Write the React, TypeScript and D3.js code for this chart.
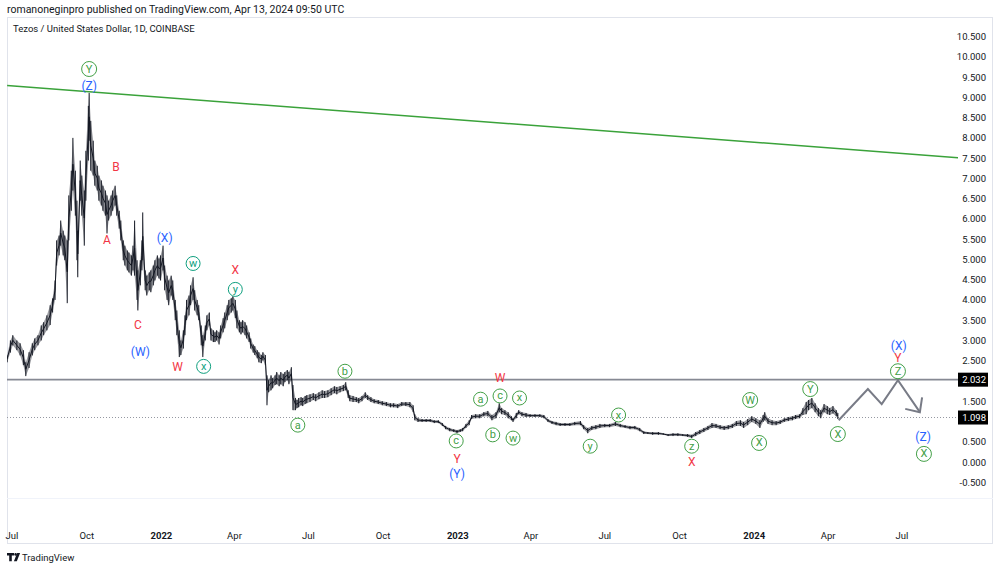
import React from "react";
import * as d3 from "d3";

const W = 1000;
const H = 568;

// ---- data ----
const headerText = "romanoneginpro published on TradingView.com, Apr 13, 2024 09:50 UTC";
const symbolText = "Tezos / United States Dollar, 1D, COINBASE";

const timeTickDates = [
  "2021-07-01", "2021-10-01", "2022-01-01", "2022-04-01", "2022-07-01", "2022-10-01",
  "2023-01-01", "2023-04-01", "2023-07-01", "2023-10-01", "2024-01-01", "2024-04-01", "2024-07-01",
];
const timeTickLabels = ["Jul", "Oct", "2022", "Apr", "Jul", "Oct", "2023", "Apr", "Jul", "Oct", "2024", "Apr", "Jul"];

const priceTicks = [10.5, 10, 9.5, 9, 8.5, 8, 7.5, 7, 6.5, 6, 5.5, 5, 4.5, 4, 3.5, 3, 2.5, 1.5, 0.5, 0, -0.5];

const resistanceLevel = 2.032;
const lastPrice = 1.098;

// [date, high, low]
const priceBands: [string, number, number][] = [
  ["2021-06-25", 2.63, 2.46], ["2021-06-29", 3.0, 2.7], ["2021-07-02", 3.13, 2.88], ["2021-07-07", 3.0, 2.76],
  ["2021-07-11", 2.93, 2.63], ["2021-07-15", 2.76, 2.39], ["2021-07-18", 2.46, 2.12], ["2021-07-22", 2.71, 2.32],
  ["2021-07-26", 2.93, 2.63], ["2021-07-29", 3.05, 2.76], ["2021-08-02", 3.13, 2.88], ["2021-08-06", 3.37, 3.0],
  ["2021-08-09", 3.45, 3.13], ["2021-08-13", 3.62, 3.25], ["2021-08-17", 3.87, 3.38], ["2021-08-20", 4.04, 3.69],
  ["2021-08-23", 4.48, 4.0], ["2021-08-25", 5.47, 4.85], ["2021-08-28", 5.59, 5.1], ["2021-08-30", 5.96, 5.34],
  ["2021-09-02", 5.71, 5.1], ["2021-09-04", 5.59, 4.98], ["2021-09-07", 5.47, 3.92], ["2021-09-09", 6.58, 5.47],
  ["2021-09-12", 7.19, 6.2], ["2021-09-14", 8.0, 6.7], ["2021-09-17", 7.19, 6.08], ["2021-09-19", 6.45, 4.98],
  ["2021-09-20", 5.71, 4.56], ["2021-09-23", 7.44, 6.45], ["2021-09-25", 7.07, 6.08], ["2021-09-28", 6.7, 5.34],
  ["2021-09-30", 7.68, 6.45], ["2021-10-03", 8.79, 7.44], ["2021-10-04", 9.11, 7.93], ["2021-10-06", 8.42, 7.19],
  ["2021-10-09", 7.93, 7.07], ["2021-10-11", 7.44, 6.82], ["2021-10-14", 7.31, 6.7], ["2021-10-16", 7.07, 6.45],
  ["2021-10-19", 6.95, 6.33], ["2021-10-21", 6.82, 6.2], ["2021-10-24", 6.7, 6.08], ["2021-10-26", 6.58, 5.64],
  ["2021-10-28", 6.45, 5.96], ["2021-10-31", 6.58, 6.08], ["2021-11-02", 6.7, 6.2], ["2021-11-05", 6.82, 6.33],
  ["2021-11-07", 6.58, 6.08], ["2021-11-10", 6.2, 5.76], ["2021-11-12", 5.96, 5.47], ["2021-11-15", 5.47, 4.98],
  ["2021-11-17", 5.34, 4.85], ["2021-11-20", 5.22, 4.73], ["2021-11-22", 5.17, 4.68], ["2021-11-25", 5.1, 4.6],
  ["2021-11-27", 5.34, 4.73], ["2021-11-29", 5.96, 4.6], ["2021-12-02", 4.98, 4.0], ["2021-12-03", 4.73, 3.74],
  ["2021-12-06", 4.98, 4.36], ["2021-12-08", 5.47, 4.73], ["2021-12-09", 6.16, 4.98], ["2021-12-12", 4.73, 4.24],
  ["2021-12-14", 4.6, 4.11], ["2021-12-17", 4.68, 4.24], ["2021-12-19", 4.73, 4.19], ["2021-12-22", 4.85, 4.36],
  ["2021-12-24", 4.98, 4.48], ["2021-12-27", 5.1, 4.6], ["2021-12-29", 5.02, 4.53], ["2021-12-31", 5.1, 4.48],
  ["2022-01-03", 5.34, 4.73], ["2022-01-05", 4.85, 4.24], ["2022-01-08", 4.6, 4.0], ["2022-01-10", 4.48, 3.87],
  ["2022-01-13", 4.6, 4.11], ["2022-01-15", 4.48, 4.0], ["2022-01-18", 4.0, 3.5], ["2022-01-20", 3.74, 3.13],
  ["2022-01-23", 3.25, 2.59], ["2022-01-25", 3.0, 2.64], ["2022-01-28", 3.25, 2.8], ["2022-01-30", 3.62, 3.13],
  ["2022-02-01", 4.0, 3.5], ["2022-02-04", 4.11, 3.62], ["2022-02-06", 4.36, 3.87], ["2022-02-09", 4.56, 4.0],
  ["2022-02-11", 4.24, 3.74], ["2022-02-14", 4.0, 3.62], ["2022-02-16", 3.87, 3.5], ["2022-02-19", 3.37, 2.88],
  ["2022-02-21", 3.13, 2.59], ["2022-02-24", 3.37, 3.0], ["2022-02-26", 3.62, 3.25], ["2022-03-01", 3.69, 3.37],
  ["2022-03-03", 3.3, 3.0], ["2022-03-06", 3.25, 2.96], ["2022-03-08", 3.2, 2.96], ["2022-03-10", 3.25, 3.0],
  ["2022-03-13", 3.2, 2.9], ["2022-03-15", 3.37, 3.05], ["2022-03-18", 3.55, 3.2], ["2022-03-20", 3.69, 3.3],
  ["2022-03-23", 3.87, 3.5], ["2022-03-25", 4.0, 3.62], ["2022-03-28", 4.04, 3.69], ["2022-03-30", 4.09, 3.74],
  ["2022-04-02", 4.0, 3.55], ["2022-04-04", 3.74, 3.3], ["2022-04-07", 3.5, 3.2], ["2022-04-09", 3.45, 3.15],
  ["2022-04-11", 3.5, 3.2], ["2022-04-14", 3.45, 3.13], ["2022-04-16", 3.37, 3.05], ["2022-04-19", 3.2, 2.96],
  ["2022-04-21", 3.05, 2.8], ["2022-04-24", 2.9, 2.7], ["2022-04-26", 2.86, 2.64], ["2022-04-29", 2.76, 2.56],
  ["2022-05-01", 2.71, 2.46], ["2022-05-04", 2.64, 2.44], ["2022-05-06", 2.71, 2.51], ["2022-05-09", 2.64, 2.39],
  ["2022-05-11", 2.14, 1.4], ["2022-05-13", 2.02, 1.72], ["2022-05-16", 2.14, 1.77], ["2022-05-18", 2.07, 1.82],
  ["2022-05-21", 2.14, 1.9], ["2022-05-23", 2.22, 1.92], ["2022-05-26", 2.14, 1.87], ["2022-05-28", 2.22, 1.92],
  ["2022-05-31", 2.17, 1.87], ["2022-06-02", 2.22, 1.97], ["2022-06-05", 2.27, 2.02], ["2022-06-07", 2.22, 1.92],
  ["2022-06-10", 2.34, 2.02], ["2022-06-12", 1.9, 1.28], ["2022-06-15", 1.58, 1.28], ["2022-06-17", 1.53, 1.33],
  ["2022-06-19", 1.58, 1.35], ["2022-06-22", 1.6, 1.4], ["2022-06-24", 1.58, 1.38], ["2022-06-27", 1.63, 1.43],
  ["2022-06-29", 1.65, 1.45], ["2022-07-03", 1.67, 1.48], ["2022-07-07", 1.7, 1.53], ["2022-07-10", 1.67, 1.5],
  ["2022-07-14", 1.72, 1.55], ["2022-07-18", 1.77, 1.58], ["2022-07-21", 1.75, 1.58], ["2022-07-25", 1.77, 1.6],
  ["2022-07-29", 1.82, 1.65], ["2022-08-02", 1.87, 1.7], ["2022-08-05", 1.85, 1.67], ["2022-08-09", 1.87, 1.72],
  ["2022-08-13", 1.9, 1.75], ["2022-08-16", 1.97, 1.77], ["2022-08-19", 1.77, 1.58], ["2022-08-21", 1.65, 1.5],
  ["2022-08-25", 1.63, 1.48], ["2022-08-29", 1.6, 1.48], ["2022-09-01", 1.58, 1.45], ["2022-09-05", 1.63, 1.5],
  ["2022-09-09", 1.72, 1.58], ["2022-09-12", 1.65, 1.53], ["2022-09-16", 1.6, 1.48], ["2022-09-20", 1.55, 1.45],
  ["2022-09-25", 1.53, 1.43], ["2022-09-30", 1.5, 1.4], ["2022-10-05", 1.48, 1.38], ["2022-10-10", 1.45, 1.35],
  ["2022-10-14", 1.45, 1.35], ["2022-10-19", 1.43, 1.33], ["2022-10-24", 1.48, 1.38], ["2022-10-29", 1.48, 1.38],
  ["2022-11-03", 1.48, 1.35], ["2022-11-07", 1.4, 1.23], ["2022-11-09", 1.18, 1.03], ["2022-11-13", 1.08, 0.99],
  ["2022-11-18", 1.06, 0.99], ["2022-11-23", 1.06, 0.99], ["2022-11-28", 1.06, 0.99], ["2022-12-03", 1.03, 0.96],
  ["2022-12-08", 1.03, 0.96], ["2022-12-13", 0.96, 0.89], ["2022-12-17", 0.89, 0.81], ["2022-12-22", 0.84, 0.76],
  ["2022-12-27", 0.81, 0.74], ["2022-12-31", 0.79, 0.71], ["2023-01-04", 0.81, 0.74], ["2023-01-07", 0.84, 0.76],
  ["2023-01-11", 0.94, 0.84], ["2023-01-15", 1.03, 0.91], ["2023-01-18", 1.16, 1.06], ["2023-01-23", 1.18, 1.08],
  ["2023-01-28", 1.18, 1.08], ["2023-02-02", 1.23, 1.13], ["2023-02-07", 1.26, 1.13], ["2023-02-12", 1.16, 1.03],
  ["2023-02-17", 1.23, 1.08], ["2023-02-21", 1.45, 1.23], ["2023-02-24", 1.33, 1.18], ["2023-02-28", 1.28, 1.16],
  ["2023-03-04", 1.23, 1.08], ["2023-03-08", 1.13, 1.03], ["2023-03-10", 1.08, 0.99], ["2023-03-14", 1.21, 1.08],
  ["2023-03-17", 1.28, 1.18], ["2023-03-21", 1.23, 1.13], ["2023-03-26", 1.21, 1.11], ["2023-03-31", 1.18, 1.11],
  ["2023-04-06", 1.18, 1.11], ["2023-04-12", 1.18, 1.11], ["2023-04-17", 1.16, 1.08], ["2023-04-22", 1.06, 0.99],
  ["2023-04-27", 1.01, 0.94], ["2023-05-02", 0.99, 0.91], ["2023-05-07", 0.96, 0.89], ["2023-05-13", 0.96, 0.89],
  ["2023-05-19", 0.96, 0.89], ["2023-05-25", 0.99, 0.91], ["2023-06-01", 1.01, 0.91], ["2023-06-05", 0.91, 0.81],
  ["2023-06-10", 0.84, 0.71], ["2023-06-15", 0.89, 0.79], ["2023-06-20", 0.91, 0.81], ["2023-06-25", 0.94, 0.84],
  ["2023-07-01", 0.94, 0.86], ["2023-07-07", 0.94, 0.86], ["2023-07-14", 0.99, 0.89], ["2023-07-20", 0.94, 0.86],
  ["2023-07-26", 0.91, 0.84], ["2023-08-01", 0.89, 0.81], ["2023-08-07", 0.89, 0.81], ["2023-08-13", 0.84, 0.76],
  ["2023-08-18", 0.76, 0.69], ["2023-08-23", 0.74, 0.69], ["2023-08-29", 0.74, 0.67], ["2023-09-05", 0.74, 0.67],
  ["2023-09-11", 0.71, 0.67], ["2023-09-17", 0.69, 0.64], ["2023-09-23", 0.71, 0.64], ["2023-09-29", 0.71, 0.64],
  ["2023-10-05", 0.69, 0.64], ["2023-10-11", 0.69, 0.62], ["2023-10-16", 0.67, 0.59], ["2023-10-21", 0.74, 0.64],
  ["2023-10-26", 0.79, 0.69], ["2023-10-31", 0.84, 0.74], ["2023-11-05", 0.89, 0.79], ["2023-11-10", 0.96, 0.84],
  ["2023-11-15", 0.94, 0.84], ["2023-11-20", 0.91, 0.81], ["2023-11-25", 0.89, 0.79], ["2023-11-30", 0.91, 0.81],
  ["2023-12-05", 0.94, 0.84], ["2023-12-10", 1.01, 0.89], ["2023-12-15", 1.03, 0.89], ["2023-12-19", 0.99, 0.84],
  ["2023-12-24", 1.06, 0.91], ["2023-12-29", 1.13, 0.99], ["2024-01-03", 1.08, 0.94], ["2024-01-08", 1.03, 0.84],
  ["2024-01-12", 1.16, 0.99], ["2024-01-14", 1.23, 1.03], ["2024-01-18", 1.08, 0.94], ["2024-01-23", 1.03, 0.91],
  ["2024-01-28", 1.01, 0.91], ["2024-02-02", 1.03, 0.94], ["2024-02-07", 1.08, 0.99], ["2024-02-12", 1.11, 1.01],
  ["2024-02-17", 1.13, 1.03], ["2024-02-21", 1.16, 1.06], ["2024-02-26", 1.18, 1.08], ["2024-03-01", 1.33, 1.16],
  ["2024-03-05", 1.48, 1.18], ["2024-03-08", 1.53, 1.28], ["2024-03-12", 1.58, 1.33], ["2024-03-16", 1.45, 1.23],
  ["2024-03-20", 1.33, 1.13], ["2024-03-23", 1.28, 1.08], ["2024-03-27", 1.43, 1.23], ["2024-03-31", 1.38, 1.18],
  ["2024-04-03", 1.33, 1.16], ["2024-04-07", 1.38, 1.2], ["2024-04-11", 1.28, 1.13], ["2024-04-13", 1.21, 1.06],
];

// green falling trendline: two anchor points [date, price]
const trendLine: [string, number][] = [["2021-06-25", 9.29], ["2024-09-08", 7.51]];

// projected zig-zag path [date, price]
const projection: [string, number][] = [
  ["2024-04-14", 1.03], ["2024-05-20", 1.8], ["2024-06-06", 1.43], ["2024-06-26", 2.02], ["2024-07-23", 1.23],
];

// wave labels: [date, price, text, kind]  kind: red | blue | green (circled) | teal (circled)
const waveLabels: [string, number, string, string][] = [
  ["2021-10-04", 9.7, "Y", "green"],
  ["2021-10-04", 9.29, "(Z)", "blue"],
  ["2021-11-06", 7.27, "B", "red"],
  ["2021-10-26", 5.47, "A", "red"],
  ["2022-01-05", 5.54, "(X)", "blue"],
  ["2021-12-03", 3.37, "C", "red"],
  ["2021-12-06", 2.71, "(W)", "blue"],
  ["2022-02-09", 4.9, "w", "teal"],
  ["2022-04-02", 4.75, "X", "red"],
  ["2022-04-02", 4.26, "y", "teal"],
  ["2022-01-21", 2.34, "W", "red"],
  ["2022-02-22", 2.36, "x", "teal"],
  ["2022-06-18", 0.91, "a", "green"],
  ["2022-08-15", 2.24, "b", "green"],
  ["2022-12-30", 0.52, "c", "green"],
  ["2022-12-31", 0.07, "Y", "red"],
  ["2022-12-31", -0.3, "(Y)", "blue"],
  ["2023-01-29", 1.55, "a", "green"],
  ["2023-02-22", 1.63, "c", "green"],
  ["2023-03-18", 1.58, "x", "green"],
  ["2023-02-22", 2.07, "W", "red"],
  ["2023-02-13", 0.67, "b", "green"],
  ["2023-03-10", 0.59, "w", "green"],
  ["2023-07-18", 1.16, "x", "green"],
  ["2023-06-13", 0.39, "y", "green"],
  ["2023-10-16", 0.39, "z", "green"],
  ["2023-10-16", 0.0, "X", "red"],
  ["2023-12-27", 1.53, "W", "green"],
  ["2024-01-07", 0.47, "X", "green"],
  ["2024-03-10", 1.8, "Y", "green"],
  ["2024-04-13", 0.69, "X", "green"],
  ["2024-06-27", 2.86, "(X)", "blue"],
  ["2024-06-26", 2.56, "Y", "red"],
  ["2024-06-26", 2.24, "Z", "green"],
  ["2024-07-27", 0.62, "(Z)", "blue"],
  ["2024-07-28", 0.2, "X", "green"],
];

const COLORS: Record<string, string> = {
  red: "#f23645",
  blue: "#2962ff",
  green: "#43a047",
  teal: "#0e9f7e",
};

const parse = d3.utcParse("%Y-%m-%d");

export default function App() {
  const plot = { left: 7, right: 958, top: 17, bottom: 498 };
  const x = d3.scaleUtc().domain([parse("2021-07-01")!, parse("2024-07-01")!]).range([12, 902]);
  const y = d3.scaleLinear().domain([0, 10.5]).range([462, 36.6]);

  const bands = priceBands.map(([d, h, l]) => ({ t: parse(d)!, h, l }));
  const area = d3
    .area<{ t: Date; h: number; l: number }>()
    .x((d) => x(d.t))
    .y0((d) => y(d.l))
    .y1((d) => y(d.h));
  const mid = d3
    .line<{ t: Date; h: number; l: number }>()
    .x((d) => x(d.t))
    .y((d) => y((d.h + d.l) / 2));

  const trend = d3
    .line<[string, number]>()
    .x((d) => x(parse(d[0])!))
    .y((d) => y(d[1]));

  const projPts = projection.map(([d, v]) => [x(parse(d)!), y(v)] as [number, number]);
  const projPath = d3.line()(projPts) || "";
  const tip = projPts[projPts.length - 1];
  const prev = projPts[projPts.length - 2];
  const ang = Math.atan2(prev[1] - tip[1], prev[0] - tip[0]);
  const aLen = 15;
  const arm = (da: number) => [tip[0] + aLen * Math.cos(ang + da), tip[1] + aLen * Math.sin(ang + da)];
  const a1 = arm(0.75);
  const a2 = arm(-0.75);

  const textCol = "#131722";
  const font = "Roboto, 'Noto Sans', 'DejaVu Sans', sans-serif";

  return (
    <div style={{ position: "absolute", left: 0, top: 0, width: W, height: H, background: "#fff" }}>
      <svg width={W} height={H} style={{ display: "block" }} fontFamily={font}>
        <defs>
          <clipPath id="plotClip">
            <rect x={plot.left} y={plot.top} width={plot.right - plot.left} height={plot.bottom - plot.top} />
          </clipPath>
        </defs>
        <rect x={0} y={0} width={W} height={H} fill="#fff" />

        {/* header */}
        <text x={7} y={13} fontSize={10.5} fill={textCol}>
          {headerText}
        </text>

        {/* frame */}
        <rect x={plot.left + 0.5} y={plot.top + 0.5} width={993 - plot.left - 1} height={543 - plot.top}
          fill="none" stroke="#e0e3eb" strokeWidth={1} />
        <line x1={plot.left} x2={993} y1={plot.bottom + 0.5} y2={plot.bottom + 0.5} stroke="#f0f3fa" strokeWidth={1} />

        <text x={13} y={32} fontSize={9.5} fill={textCol}>
          {symbolText}
        </text>

        <g clipPath="url(#plotClip)">
          {/* trendline */}
          <path d={trend(trendLine) || ""} fill="none" stroke="#3aa23a" strokeWidth={1.5} />
          {/* resistance */}
          <line x1={plot.left} x2={plot.right} y1={y(resistanceLevel)} y2={y(resistanceLevel)} stroke="#868993" strokeWidth={1.6} />
          {/* last price dotted */}
          <line x1={plot.left} x2={plot.right} y1={y(lastPrice)} y2={y(lastPrice)} stroke="#9598a1" strokeWidth={1} strokeDasharray="1 2" />

          {/* price bars */}
          <path d={area(bands) || ""} fill="#4a4d55" fillOpacity={0.55} stroke="none" />
          <path d={mid(bands) || ""} fill="none" stroke="#131722" strokeWidth={1} />
          {bands.map((b, i) => (
            <line key={i} x1={x(b.t)} x2={x(b.t)} y1={y(b.h)} y2={y(b.l)} stroke="#131722" strokeWidth={1} />
          ))}

          {/* projection */}
          <path d={projPath} fill="none" stroke="#787b86" strokeWidth={2} strokeLinejoin="miter" />
          <path d={`M${a1[0]},${a1[1]}L${tip[0]},${tip[1]}L${a2[0]},${a2[1]}`} fill="none" stroke="#787b86" strokeWidth={2} />

          {/* wave labels */}
          {waveLabels.map(([d, v, t, kind], i) => {
            const cx = x(parse(d)!);
            const cy = y(v);
            const col = COLORS[kind];
            const circled = kind === "green" || kind === "teal";
            const upper = t === t.toUpperCase();
            return (
              <g key={i}>
                {circled && <circle cx={cx} cy={cy} r={upper ? 7.5 : 7} fill="none" stroke={col} strokeWidth={1} />}
                <text x={cx} y={cy} textAnchor="middle" dominantBaseline="central"
                  fontSize={circled ? 11 : 12} fill={col}>
                  {t}
                </text>
              </g>
            );
          })}
        </g>

        {/* price axis labels */}
        {priceTicks.map((v, i) => (
          <text key={i} x={986} y={y(v)} textAnchor="end" dominantBaseline="central" fontSize={9.5} fill={textCol}>
            {v.toFixed(3)}
          </text>
        ))}
        {[resistanceLevel, lastPrice].map((v, i) => (
          <g key={i}>
            <rect x={958} y={y(v) - 7} width={30} height={14} fill="#000" />
            <text x={986} y={y(v)} textAnchor="end" dominantBaseline="central" fontSize={9.5} fill="#fff">
              {v.toFixed(3)}
            </text>
          </g>
        ))}

        {/* time axis labels */}
        {timeTickDates.map((d, i) => (
          <text key={i} x={x(parse(d)!)} y={535} textAnchor="middle" dominantBaseline="central" fontSize={9.5}
            fill={textCol} fontWeight={/^\d/.test(timeTickLabels[i]) ? 700 : 400}>
            {timeTickLabels[i]}
          </text>
        ))}

        {/* TradingView logo */}
        <g fill={textCol}>
          <path d="M7,553 h7 v2.6 h-2.2 v5.6 h-2.6 v-5.6 h-2.2 z" />
          <circle cx={15.6} cy={554.4} r={1.3} />
          <path d="M17.2,553 h2.9 l-3.3,8.2 h-2.9 z" />
        </g>
        <text x={22} y={560.5} fontSize={9.5} fill={textCol}>
          TradingView
        </text>
      </svg>
    </div>
  );
}
